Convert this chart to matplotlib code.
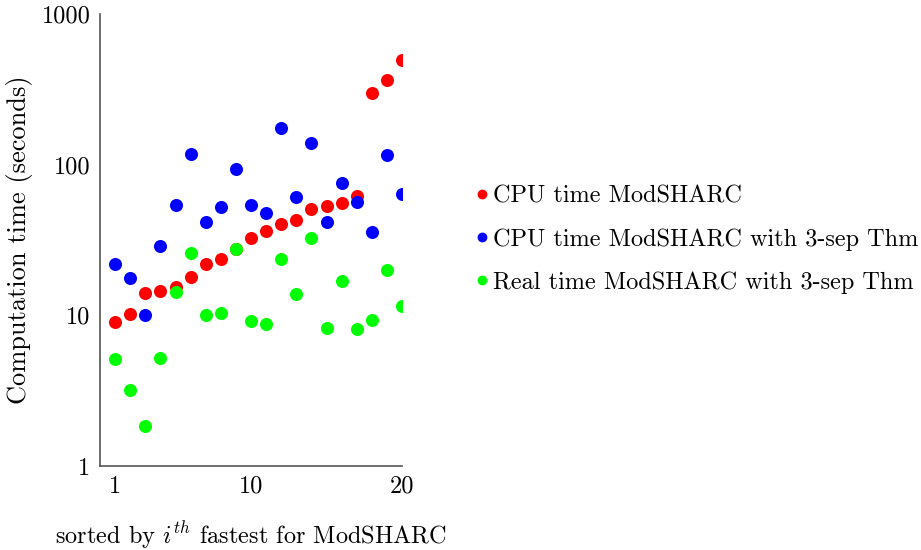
import numpy as np
import matplotlib
matplotlib.use('Agg')
from matplotlib import pyplot as plt

plt.rcParams['font.family'] = 'cmr10'
plt.rcParams['mathtext.fontset'] = 'cm'
plt.rcParams['axes.formatter.use_mathtext'] = True

rank = list(range(1, 21))
cpu_modsharc = [9.0, 10.2, 14.1, 14.5, 15.4, 18.0, 21.9, 23.6, 27.5, 32.6,
                36.3, 40.3, 42.9, 50.8, 53.1, 55.6, 61.9, 299, 364, 494]
cpu_3sep = [21.9, 17.7, 10.0, 29.0, 54.0, 118, 41.8, 52.6, 93.5, 54.0,
            48.0, 176, 61.0, 139, 41.8, 76.0, 56.5, 35.6, 116, 63.5]
real_3sep = [5.1, 3.2, 1.85, 5.2, 14.2, 25.8, 10.0, 10.3, 27.5, 9.2,
             8.7, 23.5, 13.8, 32.4, 8.3, 17.0, 8.1, 9.3, 20.0, 11.5]
xticks = [1, 10, 20]
yticks = [1, 10, 100, 1000]

fig = plt.figure(figsize=(9.21, 5.5), dpi=100)
ax = fig.add_axes([0.1086, 0.1527, 0.328, 0.822])

ax.plot(rank, cpu_modsharc, 'o', color='#ff0000', ms=9.4, mew=0, label='CPU time ModSHARC')
ax.plot(rank, cpu_3sep, 'o', color='#0000ff', ms=9.4, mew=0, label='CPU time ModSHARC with 3-sep Thm')
ax.plot(rank, real_3sep, 'o', color='#00ff00', ms=9.4, mew=0, label='Real time ModSHARC with 3-sep Thm')

ax.set_yscale('log')
ax.set_xlim(0, 20)
ax.set_ylim(1, 1000)
ax.set_xticks(xticks)
ax.set_xticklabels([str(t) for t in xticks])
ax.set_yticks(yticks)
ax.set_yticklabels([str(t) for t in yticks])
ax.minorticks_off()
ax.tick_params(length=0, labelsize=17.5, pad=7)
for s in ['top', 'right']:
    ax.spines[s].set_visible(False)
for s in ['left', 'bottom']:
    ax.spines[s].set_color('#555555')
    ax.spines[s].set_linewidth(1.2)

ax.set_ylabel('Computation time (seconds)', fontsize=19, labelpad=6)
ax.set_xlabel('sorted by $i^{th}$ fastest for ModSHARC', fontsize=17.5, labelpad=16)

fig.legend(loc='center left', bbox_to_anchor=(0.511, 0.5645), frameon=False,
           fontsize=17.5, handletextpad=0.0, labelspacing=0.85, handlelength=0.9,
           markerscale=0.75, borderaxespad=0, borderpad=0)

fig.savefig('out.png', dpi=100)
